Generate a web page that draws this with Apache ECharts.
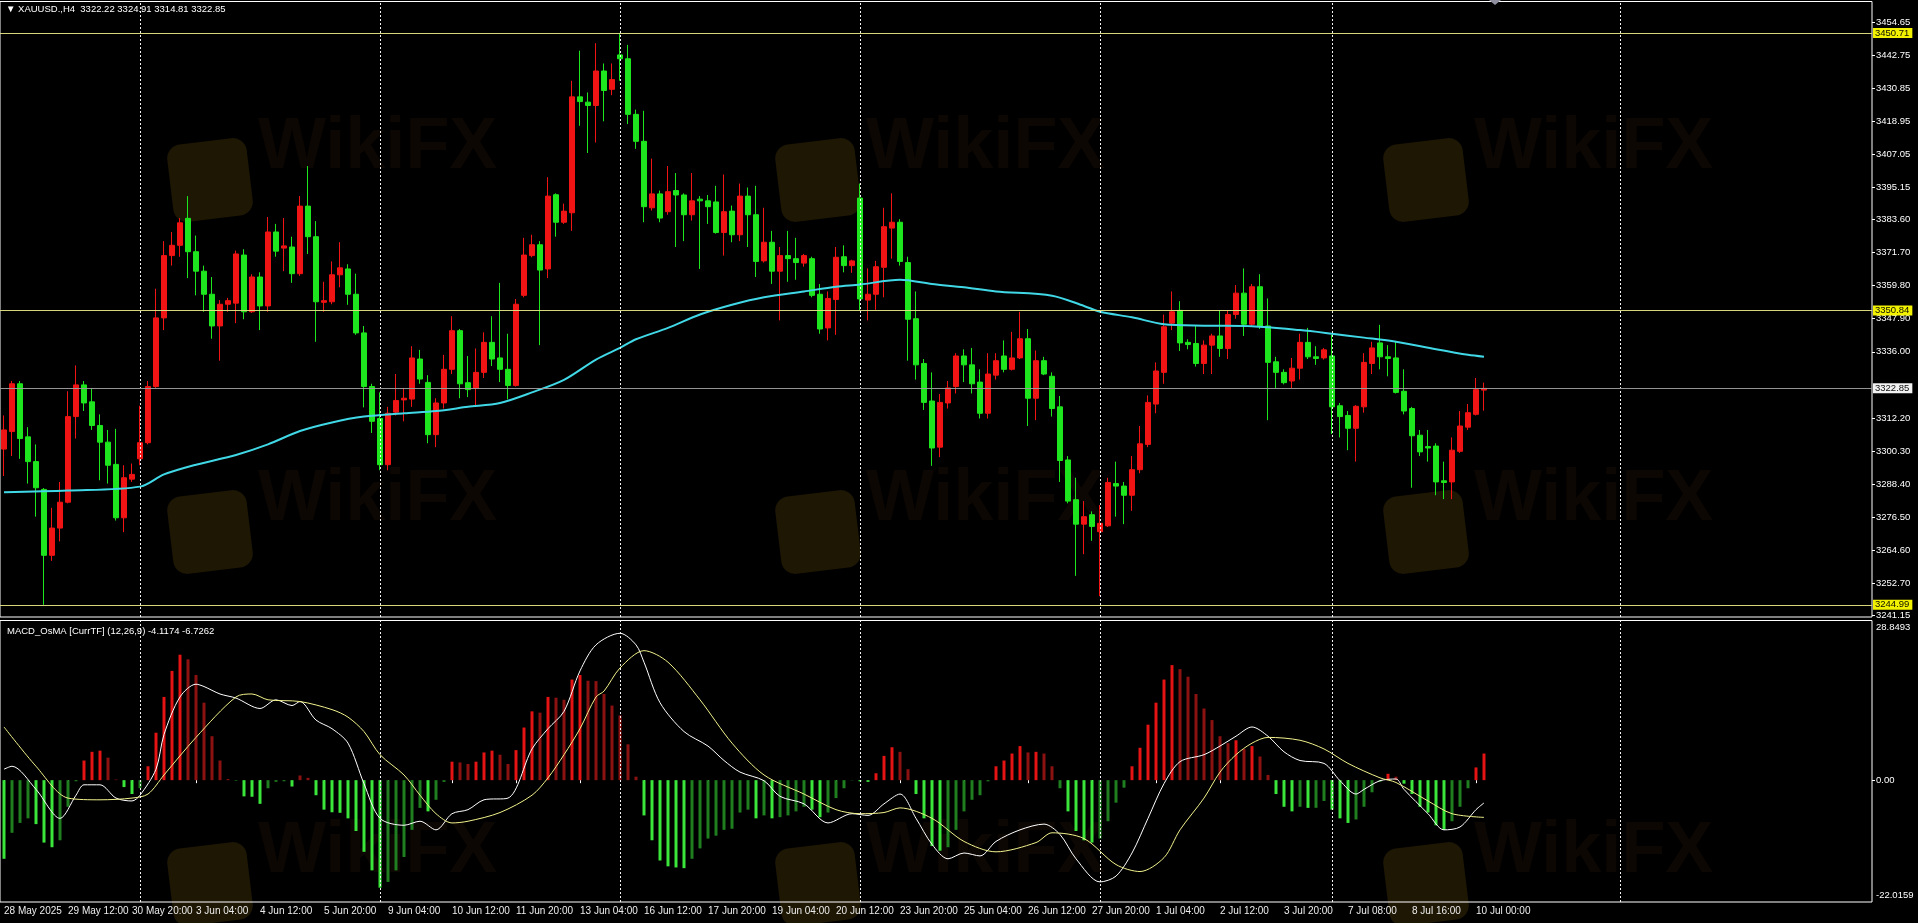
<!DOCTYPE html>
<html><head><meta charset="utf-8">
<script src="https://cdn.jsdelivr.net/npm/echarts@6/dist/echarts.min.js"></script>
<style>html,body{margin:0;padding:0;background:#000;overflow:hidden}#c{width:1918px;height:923px}</style>
</head><body><div id="c"></div>
<script>
// ---------------- DATA ----------------
const symbol = 'XAUUSD.';
const timeframe = 'H4';
// one label every 8 H4 bars, starting at bar 0
const timeLabels = ['28 May 2025','29 May 12:00','30 May 20:00','3 Jun 04:00','4 Jun 12:00','5 Jun 20:00','9 Jun 04:00','10 Jun 12:00','11 Jun 20:00','13 Jun 04:00','16 Jun 12:00','17 Jun 20:00','19 Jun 04:00','20 Jun 12:00','23 Jun 20:00','25 Jun 04:00','26 Jun 12:00','27 Jun 20:00','1 Jul 04:00','2 Jul 12:00','3 Jul 20:00','7 Jul 08:00','8 Jul 16:00','10 Jul 00:00'];
// candles: [open, close, low, high]
const candles = [
[3301.0,3307.9,3291.3,3313.1],[3307.3,3324.5,3298.5,3325.5],[3324.5,3304.8,3297.5,3325.5],[3305.4,3296.5,3288.6,3308.9],
[3296.5,3287.1,3276.7,3302.7],[3286.5,3262.8,3245.0,3287.0],[3262.8,3272.6,3260.8,3279.9],[3272.6,3281.9,3267.8,3289.2],
[3281.9,3312.7,3281.5,3321.8],[3312.7,3324.1,3304.8,3331.1],[3324.1,3317.6,3314.7,3325.5],[3318.0,3309.5,3307.9,3323.0],
[3309.5,3303.5,3289.8,3313.5],[3303.5,3295.2,3288.6,3307.9],[3295.5,3276.3,3275.3,3308.3],[3276.3,3290.7,3271.1,3295.2],
[3290.2,3291.9,3289.2,3295.8],[3297.5,3303.3,3295.2,3316.6],[3303.3,3323.5,3302.7,3325.5],[3323.5,3348.2,3323.0,3358.7],
[3348.2,3370.6,3343.8,3375.8],[3370.6,3374.3,3367.0,3379.1],[3374.3,3382.4,3370.2,3384.1],[3384.0,3372.0,3362.5,3392.0],
[3372.0,3365.0,3356.3,3377.8],[3365.0,3356.7,3350.4,3367.0],[3356.7,3345.3,3340.7,3362.9],[3345.3,3353.1,3332.8,3354.6],
[3353.1,3354.4,3350.4,3355.4],[3353.5,3371.2,3346.3,3372.4],[3370.8,3350.4,3347.7,3372.9],[3350.4,3362.9,3350.0,3363.9],
[3362.9,3352.5,3343.8,3364.6],[3352.5,3379.1,3350.4,3384.5],[3379.1,3372.2,3370.2,3382.0],[3373.3,3374.1,3365.0,3384.1],
[3373.7,3364.1,3360.8,3377.4],[3364.1,3388.4,3363.3,3392.0],[3388.4,3377.4,3371.2,3402.8],[3377.4,3354.0,3339.6,3383.0],
[3353.8,3354.4,3350.4,3361.2],[3354.0,3363.7,3353.1,3368.5],[3363.7,3366.2,3359.2,3375.4],[3365.8,3356.7,3352.9,3367.5],
[3356.7,3342.8,3342.1,3364.1],[3342.8,3323.5,3316.0,3345.3],[3323.5,3311.0,3306.8,3324.5],[3312.0,3295.4,3293.4,3321.4],
[3295.4,3313.9,3293.4,3316.2],[3314.3,3318.5,3313.1,3328.0],[3318.7,3319.3,3311.0,3323.0],[3319.0,3333.8,3316.2,3338.0],
[3333.4,3326.2,3324.5,3336.7],[3325.0,3306.2,3303.1,3327.6],[3306.2,3317.6,3301.7,3319.3],[3317.6,3329.7,3315.6,3334.9],
[3329.7,3343.6,3328.0,3348.8],[3343.6,3324.5,3319.3,3344.2],[3324.9,3322.4,3319.7,3334.5],[3322.8,3328.6,3316.2,3337.2],
[3328.6,3339.4,3326.6,3343.0],[3339.4,3333.4,3330.9,3348.8],[3333.8,3329.7,3325.1,3360.8],[3329.7,3323.9,3318.9,3342.5],
[3323.9,3353.1,3323.5,3355.0],[3356.3,3370.8,3355.6,3377.0],[3370.6,3374.5,3370.0,3378.1],[3374.5,3365.4,3338.4,3375.8],
[3365.8,3392.0,3362.5,3398.8],[3392.5,3382.6,3377.4,3393.0],[3382.6,3386.6,3382.0,3389.3],[3386.0,3427.7,3379.5,3433.5],
[3427.7,3426.0,3417.3,3444.3],[3425.8,3424.6,3407.5,3429.3],[3424.6,3437.0,3411.3,3447.0],[3437.0,3430.0,3418.9,3439.7],
[3430.4,3433.9,3428.3,3439.7],[3442.8,3441.4,3433.5,3450.7],[3441.4,3421.4,3417.9,3446.4],[3421.4,3411.7,3409.0,3423.1],
[3411.7,3388.2,3382.6,3422.7],[3387.8,3392.8,3386.8,3405.5],[3392.8,3384.1,3382.6,3394.0],[3386.4,3393.6,3385.3,3402.8],
[3394.0,3392.4,3373.7,3400.3],[3392.4,3385.3,3375.8,3393.0],[3385.3,3390.3,3383.2,3400.3],[3390.9,3390.3,3365.8,3392.0],
[3390.3,3388.2,3382.0,3392.4],[3389.9,3378.9,3378.5,3395.7],[3378.9,3386.4,3370.6,3399.8],[3386.6,3378.1,3375.4,3388.6],
[3378.1,3392.0,3375.8,3396.5],[3392.0,3385.3,3373.7,3395.1],[3385.3,3368.5,3362.9,3395.7],[3368.7,3375.4,3368.1,3387.8],
[3375.4,3365.0,3360.4,3379.5],[3365.0,3370.6,3347.3,3373.7],[3370.6,3369.5,3361.2,3379.5],[3369.5,3368.1,3361.9,3377.0],
[3367.9,3370.6,3366.6,3371.2],[3369.5,3356.3,3355.6,3370.2],[3356.7,3344.2,3342.5,3360.4],[3344.6,3355.2,3340.1,3357.7],
[3354.8,3370.0,3342.1,3373.7],[3370.2,3367.0,3364.6,3374.3],[3367.0,3368.7,3364.4,3369.1],[3391.3,3355.0,3350.9,3396.5],
[3354.6,3356.7,3347.3,3366.0],[3356.7,3366.6,3351.1,3368.7],[3366.4,3381.0,3355.6,3387.8],[3380.5,3382.6,3369.5,3393.0],
[3382.6,3368.5,3367.0,3383.7],[3368.1,3347.7,3332.8,3370.2],[3347.9,3331.3,3326.0,3357.7],[3331.8,3317.8,3315.1,3333.4],
[3318.3,3301.4,3295.0,3328.6],[3301.7,3317.8,3298.1,3320.8],[3317.6,3323.0,3315.6,3325.5],[3323.5,3334.5,3321.0,3335.5],
[3334.5,3331.3,3325.1,3336.9],[3331.3,3324.5,3321.0,3337.4],[3325.1,3313.9,3312.0,3329.7],[3313.9,3328.0,3312.0,3335.5],
[3327.6,3332.8,3326.0,3335.5],[3334.5,3329.7,3328.6,3340.1],[3329.7,3333.8,3329.3,3343.2],[3333.8,3340.7,3333.4,3350.4],
[3340.7,3319.3,3309.3,3344.2],[3319.3,3332.8,3311.4,3336.5],[3332.8,3328.0,3327.6,3334.2],[3327.2,3315.6,3312.7,3328.6],
[3316.2,3296.9,3289.2,3320.1],[3297.1,3282.3,3281.5,3298.5],[3282.8,3274.0,3255.4,3290.7],[3274.0,3276.7,3263.2,3282.3],
[3277.4,3273.2,3268.0,3278.6],[3271.3,3274.3,3248.1,3280.9],[3273.4,3289.0,3273.0,3290.7],[3288.6,3287.7,3276.7,3296.5],
[3287.7,3284.4,3274.0,3289.2],[3284.4,3293.6,3278.8,3298.5],[3293.6,3302.9,3292.3,3309.3],[3302.7,3317.8,3301.7,3320.3],
[3317.2,3329.1,3313.9,3332.2],[3328.6,3345.0,3324.5,3349.4],[3346.3,3350.4,3343.8,3357.7],[3350.9,3339.2,3336.3,3354.2],
[3339.4,3338.6,3336.9,3340.5],[3339.0,3331.8,3330.7,3345.3],[3331.8,3338.4,3328.0,3340.1],[3338.4,3341.7,3328.0,3342.5],
[3341.7,3337.2,3334.2,3350.9],[3337.2,3349.4,3333.4,3350.9],[3349.4,3357.1,3347.9,3360.0],[3357.1,3345.9,3341.7,3366.0],
[3345.9,3359.4,3345.3,3360.4],[3359.4,3345.3,3344.2,3363.9],[3345.3,3332.2,3311.4,3355.2],[3332.4,3328.6,3323.0,3334.2],
[3328.6,3324.9,3324.3,3329.7],[3325.5,3330.1,3323.0,3333.8],[3330.1,3339.4,3326.0,3342.5],[3339.4,3334.2,3333.4,3344.6],
[3334.2,3333.6,3331.3,3338.0],[3333.8,3336.7,3333.2,3337.4],[3334.5,3316.2,3306.4,3342.1],[3316.6,3312.7,3305.2,3317.6],
[3313.1,3308.5,3300.6,3314.7],[3308.5,3316.4,3296.5,3316.8],[3316.2,3332.2,3314.1,3335.5],[3331.8,3337.4,3328.0,3339.6],
[3339.2,3334.2,3329.7,3345.7],[3334.2,3333.6,3327.2,3338.4],[3333.8,3321.4,3321.0,3339.6],[3321.8,3314.7,3313.5,3329.7],
[3315.6,3305.8,3287.1,3316.2],[3306.0,3300.0,3298.5,3307.9],[3301.9,3301.4,3296.5,3307.9],[3302.1,3289.2,3284.4,3303.1],
[3289.6,3289.0,3283.0,3296.5],[3289.2,3300.6,3283.0,3305.2],[3300.2,3309.3,3299.6,3314.7],[3308.9,3314.1,3307.9,3317.2],
[3313.5,3322.4,3313.1,3326.6],[3322.22,3322.85,3314.81,3324.91]
];
// cyan moving average: [barIndex, price]
const maPoints = [[0,3285.5],[8,3286.1],[17,3287.5],[20,3291.9],[24,3295.4],[29,3298.9],[33,3302.7],[37,3307.5],[41,3310.6],[45,3312.7],[50,3313.9],[54,3314.7],[58,3316.2],[62,3317.6],[66,3321.4],[70,3325.9],[74,3333.2],[77,3337.4],[79,3340.5],[83,3344.6],[87,3349.4],[91,3352.9],[95,3355.6],[100,3357.7],[104,3359.4],[107,3360.2],[112,3361.9],[116,3360.4],[120,3359.2],[124,3357.7],[131,3356.2],[135,3352.5],[137,3350.4],[141,3348.4],[145,3345.9],[150,3345.4],[156,3345.2],[162,3343.8],[166,3342.5],[170,3341.1],[174,3339.6],[179,3336.9],[183,3334.9],[185,3334.2]];
// MACD_OsMA histogram, one value per bar
const osma = [-14.21,-9.51,-7.73,-6.90,-7.94,-11.28,-12.12,-10.86,-4.81,-0.2,3.55,5.12,5.33,4.07,0.1,-1.25,-2.51,-1.46,2.51,8.57,15.04,19.74,22.67,21.83,19.01,14.0,7.94,3.55,0.2,-0.1,-2.93,-3.0,-4.28,-1.46,-0.3,-0.2,-1.15,0.84,0.42,-2.72,-5.33,-5.8,-5.9,-6.90,-9.19,-12.95,-16.30,-19.43,-18.39,-16.30,-13.89,-8.98,-5.01,-5.64,-3.55,-0.31,3.34,3.2,2.93,3.34,5.01,5.33,4.60,2.93,5.43,9.51,12.43,12.2,15.04,14.9,14.52,18.18,19.01,17.97,17.9,15.57,13.48,11.70,6.48,0.63,-6.37,-10.86,-14.52,-15.57,-15.77,-15.9,-14.21,-12.33,-10.55,-10.03,-8.98,-8.78,-5.85,-5.33,-6.90,-6.37,-6.90,-6.69,-6.37,-5.64,-4.81,-5.33,-6.69,-5.85,-3.24,-1.46,-0.05,-0.21,-0.31,1.25,4.39,5.95,5.12,1.98,-2.51,-6.90,-11.91,-12.75,-12.12,-8.98,-5.64,-3.55,-2.72,-0.21,2.51,3.55,4.81,6.16,5.01,5.12,4.81,2.51,-1.46,-5.64,-9.19,-10.86,-11.28,-10.55,-7.42,-4.07,-1.36,2.51,5.85,10.03,14.0,18.18,20.79,20.06,18.70,15.57,12.95,10.86,7.94,6.69,7.21,5.64,6.16,4.28,0.94,-2.51,-4.81,-5.64,-4.81,-5.01,-5.0,-3.76,-5.33,-6.90,-7.73,-7.10,-4.81,-2.19,-0.31,1.15,0.63,-0.63,-2.51,-4.81,-5.85,-8.15,-8.98,-7.42,-4.81,-1.46,2.30,4.81];
// white MACD line: [barIndex, value]
const macdLine = [[0,1.98],[1,2.51],[4,-1.67],[7,-6.9],[9,-2.72],[10,-0.84],[12,-0.84],[14,-3.24],[16,-3.76],[17,-2.72],[19,1.98],[20,8.25],[22,15.04],[24,17.34],[25,16.92],[27,15.57],[29,14.83],[32,12.95],[34,14.52],[36,13.48],[37,14.21],[39,10.86],[41,9.3],[43,6.69],[45,-0.63],[47,-6.9],[50,-8.15],[52,-7.42],[54,-8.98],[56,-6.06],[58,-5.33],[60,-3.55],[63,-3.24],[66,5.64],[68,9.3],[70,12.43],[72,19.74],[74,24.45],[77,26.54],[79,24.45],[80,21.31],[82,14.0],[85,8.78],[88,6.16],[90,3.55],[92,1.46],[95,-0.1],[97,-2.93],[100,-4.28],[103,-7.73],[106,-6.06],[108,-6.37],[110,-4.28],[112,-2.51],[114,-6.9],[116,-11.6],[118,-14.21],[120,-13.16],[122,-13.69],[124,-11.07],[127,-8.98],[130,-7.94],[132,-9.82],[134,-14.21],[137,-18.39],[139,-17.34],[141,-13.16],[143,-6.9],[145,-0.63],[147,3.34],[150,4.6],[152,6.16],[154,7.94],[156,9.61],[158,7.94],[160,5.12],[162,3.55],[165,3.03],[167,-0.1],[169,-2.51],[170,-1.67],[172,-0.1],[174,0.21],[175,-1.67],[178,-6.06],[180,-8.98],[182,-8.46],[184,-5.33],[185,-4.1174]];
// yellow signal line: [barIndex, value]
const signalLine = [[0,9.61],[4,2.51],[8,-3.24],[12,-3.55],[16,-3.24],[18,-2.51],[20,0.94],[24,7.73],[29,15.04],[31,15.57],[33,14.52],[37,14.21],[41,12.75],[43,11.39],[45,8.78],[47,4.6],[50,0.94],[52,-2.72],[54,-6.06],[56,-7.73],[58,-7.42],[62,-5.85],[66,-2.72],[68,0.42],[70,4.6],[72,9.3],[74,15.04],[75,16.09],[77,20.27],[80,23.4],[83,21.31],[87,14.52],[91,6.69],[95,0.94],[100,-2.51],[104,-5.33],[107,-6.06],[110,-5.85],[112,-5.01],[116,-6.9],[120,-11.07],[124,-12.95],[129,-11.28],[131,-9.51],[135,-10.55],[139,-15.25],[142,-16.51],[145,-14.0],[147,-8.98],[150,-3.24],[152,1.46],[154,4.6],[156,6.69],[158,7.73],[162,7.21],[165,5.64],[168,3.03],[172,0.42],[174,-0.42],[178,-3.76],[181,-6.06],[185,-6.7262]];
const priceTicks = [3454.65,3442.75,3430.85,3418.95,3407.05,3395.15,3383.60,3371.70,3359.80,3347.90,3336.00,3312.20,3300.30,3288.40,3276.50,3264.60,3252.70,3241.15];
const macdTicks = [28.8493, 0, -22.0159];
const levels = [3450.71, 3350.84, 3244.99];
const weekStartBars = [17, 47, 77, 107, 137, 166, 202];
const priceMin = 3240.61, priceMax = 3462.0;

// ---------------- BUILD ----------------
const labelEvery = 8;
const totalSlots = 234;
const categories = Array.from({length: totalSlots}, (_, i) => String(i));
const last = candles[candles.length - 1];
const FONT = '"Liberation Sans", Arial, sans-serif';
const isLabelIdx = i => i % labelEvery === 0 && i / labelEvery < timeLabels.length;

const histData = osma.map((v, i) => {
  const prev = i > 0 ? osma[i - 1] : v;
  const grow = Math.abs(v) >= Math.abs(prev);
  const c = v >= 0 ? (grow ? '#e51313' : '#8c1111') : (grow ? '#3be63b' : '#1f7e1f');
  return {value: v, itemStyle: {color: c}};
});

const vLines = weekStartBars.map(b => ({xAxis: b, label: {show: false}}));
const dashStyle = {color: '#ffffff', width: 1, type: [2, 2], opacity: 0.95};

const hLevelLines = levels.map(v => ({
  yAxis: v, lineStyle: {color: '#e2e282', width: 1, type: 'solid'},
  label: {show: true, position: 'end', distance: 1, formatter: v.toFixed(2), backgroundColor: '#ffff00', color: '#000', fontSize: 9.5, fontFamily: FONT, padding: [0, 3, 0, 2], lineHeight: 10}
}));
const curLine = {
  yAxis: last[1], lineStyle: {color: '#9c9c9c', width: 1, type: 'solid'},
  label: {show: true, position: 'end', distance: 1, formatter: last[1].toFixed(2), backgroundColor: '#ffffff', color: '#000', fontSize: 9.5, fontFamily: FONT, padding: [0, 3, 0, 2], lineHeight: 10}
};

// faint watermark (decoration)
const wmCols = [210, 818, 1426], wmRows = [180, 532, 884];
const graphics = [];
wmRows.forEach(cy => wmCols.forEach(cx => {
  graphics.push({type: 'rect', x: cx, y: cy, rotation: 0.12, z: -5, silent: true,
    shape: {x: -40, y: -39, width: 80, height: 78, r: 14}, style: {fill: '#1e1704'}});
  graphics.push({type: 'text', x: cx + 48, y: cy - 32, z: -5, silent: true,
    style: {text: 'WikiFX', fontSize: 72, fontWeight: 'bold', fontFamily: FONT, fill: '#0d0703', verticalAlign: 'middle'}});
}));
graphics.push({type: 'text', x: 6, y: 9, z: 10, silent: true,
  style: {text: '\u25BC ' + symbol + ',' + timeframe + '  ' + [last[0], last[3], last[2], last[1]].map(v => v.toFixed(2)).join(' '),
    fontSize: 9.5, fontFamily: FONT, fill: '#ffffff', verticalAlign: 'middle'}});
graphics.push({type: 'text', x: 7, y: 631, z: 10, silent: true,
  style: {text: 'MACD_OsMA [CurrTF] (12,26,9) ' + macdLine[macdLine.length - 1][1].toFixed(4) + ' ' + signalLine[signalLine.length - 1][1].toFixed(4),
    fontSize: 9.5, fontFamily: FONT, fill: '#ffffff', verticalAlign: 'middle'}});
graphics.push({type: 'polygon', z: 10, silent: true, shape: {points: [[1489, 0], [1501, 0], [1495, 5]]}, style: {fill: '#8f8fa0'}});

const chart = echarts.init(document.getElementById('c'), null, {renderer: 'canvas'});
chart.setOption({
  backgroundColor: '#000000',
  animation: false,
  graphic: {elements: graphics},
  grid: [
    {left: 0, right: 46, top: 1.5, height: 615.5, show: true, borderColor: '#ffffff', borderWidth: 1, backgroundColor: 'transparent'},
    {left: 0, right: 46, top: 620.5, height: 281.5, show: true, borderColor: '#ffffff', borderWidth: 1, backgroundColor: 'transparent'}
  ],
  xAxis: [
    {type: 'category', gridIndex: 0, data: categories, boundaryGap: true, show: false},
    {type: 'category', gridIndex: 1, data: categories, boundaryGap: true,
      axisLine: {show: false},
      axisTick: {show: true, interval: i => isLabelIdx(i), alignWithLabel: true, length: 3, lineStyle: {color: '#ffffff'}},
      axisLabel: {show: true, interval: i => isLabelIdx(i), formatter: (v, i) => timeLabels[i / labelEvery] || '',
        align: 'left', color: '#ececec', fontSize: 10, fontFamily: FONT, margin: 4},
      splitLine: {show: false}}
  ],
  yAxis: [
    {type: 'value', gridIndex: 0, position: 'right', min: priceMin, max: priceMax, scale: true,
      axisLine: {show: false}, splitLine: {show: false},
      axisTick: {show: true, length: 3, customValues: priceTicks, lineStyle: {color: '#ffffff'}},
      axisLabel: {show: true, customValues: priceTicks, formatter: v => v.toFixed(2), color: '#ffffff', fontSize: 9.5, fontFamily: FONT, margin: 4}},
    {type: 'value', gridIndex: 1, position: 'right', min: macdTicks[2], max: macdTicks[0],
      axisLine: {show: false}, splitLine: {show: false},
      axisTick: {show: true, length: 3, customValues: [0], lineStyle: {color: '#ffffff'}},
      axisLabel: {show: true, customValues: macdTicks, margin: 4, color: '#ffffff', fontSize: 9.5, fontFamily: FONT,
        formatter: v => v > 1 ? '{t|' + v.toFixed(4) + '}' : (v < -1 ? '{b|' + v.toFixed(4) + '}' : '0.00'),
        rich: {t: {padding: [14, 0, 0, 0], color: '#ffffff', fontSize: 9.5, fontFamily: FONT},
               b: {padding: [0, 0, 14, 0], color: '#ffffff', fontSize: 9.5, fontFamily: FONT}}}}
  ],
  series: [
    {type: 'candlestick', xAxisIndex: 0, yAxisIndex: 0, data: candles, barWidth: 5,
      itemStyle: {color: '#f01414', color0: '#1ee61e', borderColor: '#f01414', borderColor0: '#1ee61e', borderWidth: 1},
      markLine: {silent: true, symbol: ['none', 'none'], animation: false, lineStyle: dashStyle,
        data: vLines.concat(hLevelLines, [curLine])}},
    {type: 'line', xAxisIndex: 0, yAxisIndex: 0, data: maPoints, showSymbol: false, smooth: 0.3,
      lineStyle: {color: '#40d8e6', width: 2}, z: 3},
    {type: 'bar', xAxisIndex: 1, yAxisIndex: 1, data: histData, barWidth: 3,
      markLine: {silent: true, symbol: ['none', 'none'], animation: false, lineStyle: dashStyle, data: vLines}},
    {type: 'line', xAxisIndex: 1, yAxisIndex: 1, data: macdLine, showSymbol: false, smooth: 0.3,
      lineStyle: {color: '#ffffff', width: 1}, z: 4},
    {type: 'line', xAxisIndex: 1, yAxisIndex: 1, data: signalLine, showSymbol: false, smooth: 0.3,
      lineStyle: {color: '#f2f28c', width: 1}, z: 4}
  ]
});
</script>
</body></html>
